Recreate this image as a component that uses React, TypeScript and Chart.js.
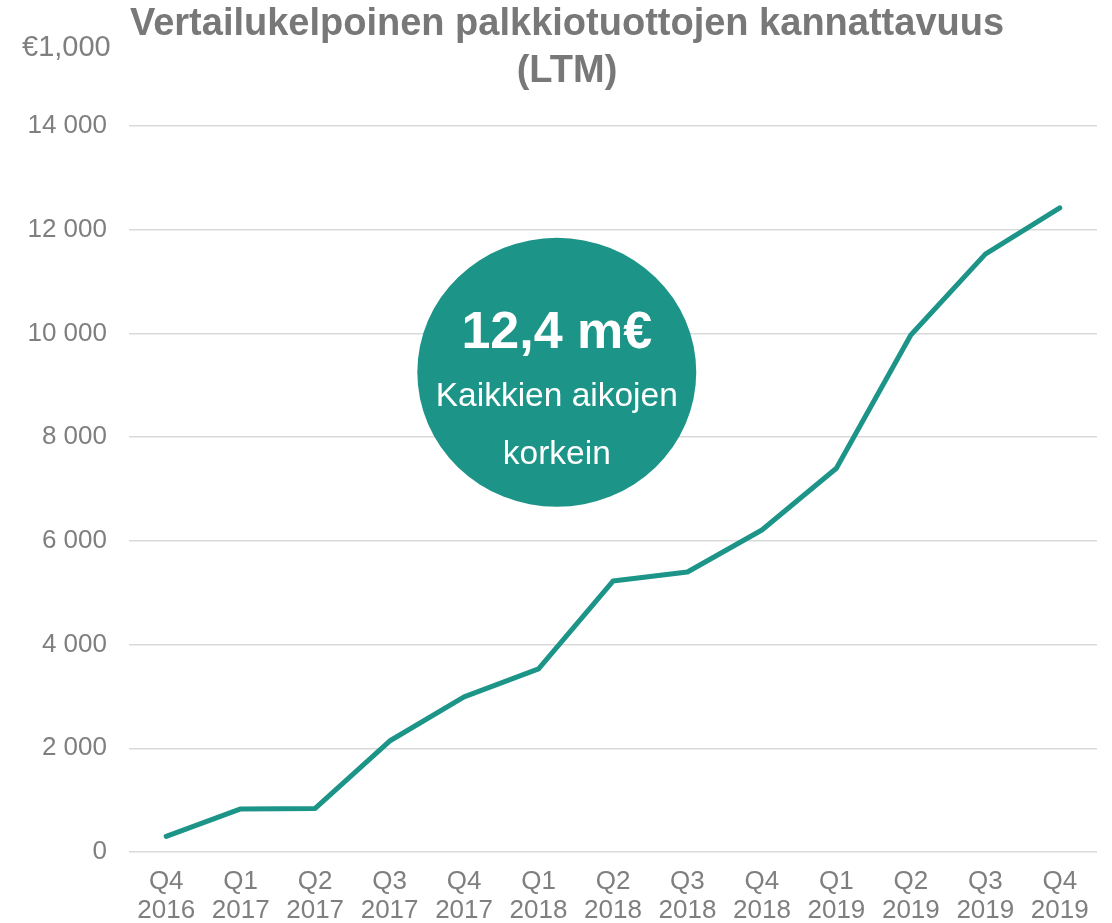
import React, { useEffect, useRef } from "react";
import { Chart, registerables } from "chart.js";

Chart.register(...registerables);

const quarters = ["Q4", "Q1", "Q2", "Q3", "Q4", "Q1", "Q2", "Q3", "Q4", "Q1", "Q2", "Q3", "Q4"];
const years = ["2016", "2017", "2017", "2017", "2017", "2018", "2018", "2018", "2018", "2019", "2019", "2019", "2019"];
const values = [300, 830, 840, 2140, 2990, 3530, 5225, 5400, 6210, 7400, 9970, 11530, 12420];
const yTicks = [0, 2000, 4000, 6000, 8000, 10000, 12000, 14000];

const titleLines = ["Vertailukelpoinen palkkiotuottojen kannattavuus", "(LTM)"];
const unitLabel = "€1,000";
const bubbleLines = ["12,4 m€", "Kaikkien aikojen", "korkein"];
// bubble annotation position in data units (category index, value)
const bubbleCenter = { x: 5.245, y: 9250 };
const bubbleRadius = { x: 1.873, y: 2594 };

const TEAL = "#1c9488";
const GRAY = "#7f7f7f";
const FONT = "'Liberation Sans', Arial, sans-serif";

const overlayPlugin = {
  id: "overlay",
  afterDatasetsDraw(chart: any) {
    const ctx = chart.ctx;
    const xs = chart.scales.x;
    const ys = chart.scales.y;
    const cx = xs.getPixelForValue(bubbleCenter.x);
    const cy = ys.getPixelForValue(bubbleCenter.y);
    const rx = Math.abs(xs.getPixelForValue(bubbleCenter.x + bubbleRadius.x) - cx);
    const ry = Math.abs(ys.getPixelForValue(bubbleCenter.y + bubbleRadius.y) - cy);
    ctx.save();
    ctx.fillStyle = TEAL;
    ctx.beginPath();
    ctx.ellipse(cx, cy, rx, ry, 0, 0, Math.PI * 2);
    ctx.fill();
    ctx.fillStyle = "#ffffff";
    ctx.textAlign = "center";
    ctx.textBaseline = "middle";
    ctx.font = `bold 52px ${FONT}`;
    ctx.fillText(bubbleLines[0], cx, cy - 39);
    ctx.font = `33.5px ${FONT}`;
    ctx.fillText(bubbleLines[1], cx, cy + 24);
    ctx.fillText(bubbleLines[2], cx, cy + 82);
    ctx.restore();
  },
  afterDraw(chart: any) {
    const ctx = chart.ctx;
    ctx.save();
    ctx.fillStyle = "#787878";
    ctx.textAlign = "center";
    ctx.textBaseline = "middle";
    ctx.font = `bold 38px ${FONT}`;
    ctx.fillText(titleLines[0], 567, 25);
    ctx.fillText(titleLines[1], 567, 72);
    ctx.fillStyle = GRAY;
    ctx.textAlign = "left";
    ctx.font = `29px ${FONT}`;
    ctx.fillText(unitLabel, 22, 48);
    ctx.restore();
  },
};

function fmt(v: number) {
  return String(v).replace(/\B(?=(\d{3})+(?!\d))/g, " ");
}

export default function App() {
  const ref = useRef<HTMLCanvasElement | null>(null);
  useEffect(() => {
    document.body.style.margin = "0";
    if (!ref.current) return;
    const chart = new Chart(ref.current, {
      type: "line",
      data: {
        labels: quarters.map((q, i) => [q, years[i]]),
        datasets: [
          {
            data: values,
            borderColor: TEAL,
            borderWidth: 5,
            pointRadius: 0,
            borderCapStyle: "round",
            borderJoinStyle: "round",
            tension: 0,
            fill: false,
          },
        ],
      },
      options: {
        responsive: false,
        animation: false,
        layout: { padding: { top: 126, right: 15, left: 0, bottom: 0 } },
        plugins: { legend: { display: false }, title: { display: false }, tooltip: { enabled: false } },
        scales: {
          x: {
            offset: true,
            grid: { display: false, drawTicks: false },
            border: { display: false },
            ticks: {
              color: GRAY,
              font: { family: FONT, size: 26, lineHeight: 1.12 },
              padding: 15,
              maxRotation: 0,
              autoSkip: false,
            },
            afterFit: (s: any) => {
              s.height = 71;
            },
          },
          y: {
            min: 0,
            max: 14000,
            grid: { color: "#d9d9d9", lineWidth: 1.5, drawTicks: false },
            border: { display: false },
            afterBuildTicks: (s: any) => {
              s.ticks = yTicks.map((v) => ({ value: v }));
            },
            ticks: {
              color: GRAY,
              font: { family: FONT, size: 26 },
              padding: 22,
              callback: (v: any) => fmt(Number(v)),
            },
            afterFit: (s: any) => {
              s.width = 129;
            },
          },
        },
      },
      plugins: [overlayPlugin],
    });
    return () => chart.destroy();
  }, []);
  return <canvas ref={ref} width={1112} height={923} style={{ display: "block" }} />;
}
